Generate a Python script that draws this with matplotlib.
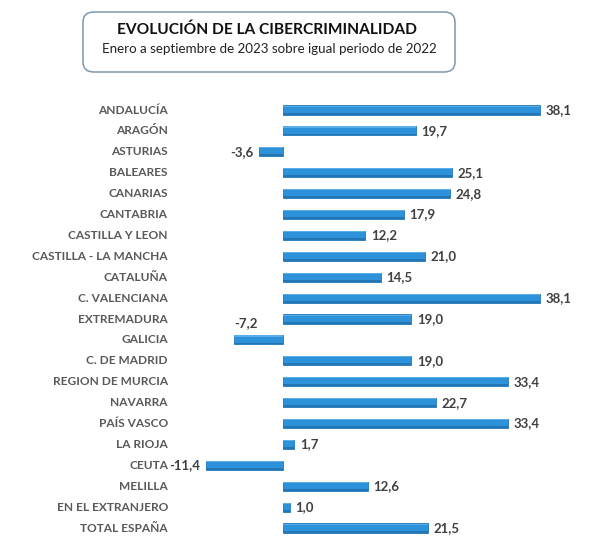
import matplotlib
matplotlib.use("Agg")
import matplotlib.pyplot as plt
from matplotlib.patches import FancyBboxPatch

REGIONS = ["ANDALUCÍA", "ARAGÓN", "ASTURIAS", "BALEARES", "CANARIAS", "CANTABRIA",
           "CASTILLA Y LEON", "CASTILLA - LA MANCHA", "CATALUÑA", "C. VALENCIANA",
           "EXTREMADURA", "GALICIA", "C. DE MADRID", "REGION DE MURCIA", "NAVARRA",
           "PAÍS VASCO", "LA RIOJA", "CEUTA", "MELILLA", "EN EL EXTRANJERO",
           "TOTAL ESPAÑA"]
VALUES = [38.1, 19.7, -3.6, 25.1, 24.8, 17.9, 12.2, 21.0, 14.5, 38.1,
          19.0, -7.2, 19.0, 33.4, 22.7, 33.4, 1.7, -11.4, 12.6, 1.0, 21.5]

BLUE, DARK, EDGE = "#2d92da", "#2276b6", "#5aaee8"
LABEL, VALUE = "#595959", "#404040"
plt.rcParams["font.family"] = ["Lato", "DejaVu Sans"]

W, H = 594, 560
fig = plt.figure(figsize=(W / 100, H / 100), dpi=100)
ax = fig.add_axes([0, 0, 1, 1])

# pixel mapping: zero at x=283, 38.1 at x=540; rows at y=110 .. 528
ppu = (540 - 283) / 38.1
row = (528 - 110) / 20
ax.set_xlim(-283 / ppu, (W - 283) / ppu)
ax.set_ylim((H - 110) / row, -110 / row)
ax.axis("off")

ys = list(range(len(REGIONS)))
bh = 0.44
ax.barh(ys, VALUES, height=bh, color=BLUE, edgecolor=DARK, lw=0.6, zorder=2)
# thin darker lower strip + light top rim for the bevelled look
ax.barh([y + bh * 0.39 for y in ys], VALUES, height=bh * 0.2, color=DARK,
        edgecolor="none", zorder=3)
ax.barh([y - bh * 0.42 for y in ys], VALUES, height=bh * 0.12, color=EDGE,
        edgecolor="none", zorder=3)

lab_x = (168 - 283) / ppu
for y, name, v in zip(ys, REGIONS, VALUES):
    ax.text(lab_x, y, name, ha="right", va="center", fontsize=8.6,
            fontweight="bold", color=LABEL)
    s = f"{v:.1f}".replace(".", ",")
    if name == "GALICIA":
        ax.annotate(s, (v, y), xytext=(0, 12), textcoords="offset points",
                    ha="left", va="center", fontsize=9.5, fontweight="bold",
                    color=VALUE)
    elif v >= 0:
        ax.annotate(s, (v, y), xytext=(4, 0), textcoords="offset points",
                    ha="left", va="center", fontsize=9.5, fontweight="bold",
                    color=VALUE)
    else:
        ax.annotate(s, (v, y), xytext=(-4, 0), textcoords="offset points",
                    ha="right", va="center", fontsize=9.5, fontweight="bold",
                    color=VALUE)

box = FancyBboxPatch((83 / W, 1 - 72 / H), 372 / W, 60 / H,
                     boxstyle="round,pad=0,rounding_size=0.018",
                     transform=fig.transFigure, facecolor="white",
                     edgecolor="#7f97ad", lw=1.1)
fig.patches.append(box)
fig.text(267 / W, 1 - 30 / H, "EVOLUCIÓN DE LA CIBERCRIMINALIDAD",
         ha="center", va="center", fontsize=11.2, fontweight="bold",
         color="#111111")
fig.text(269 / W, 1 - 49 / H, "Enero a septiembre de 2023 sobre igual periodo de 2022",
         ha="center", va="center", fontsize=9.6, color="#222222")

fig.savefig("out.png", dpi=100)
